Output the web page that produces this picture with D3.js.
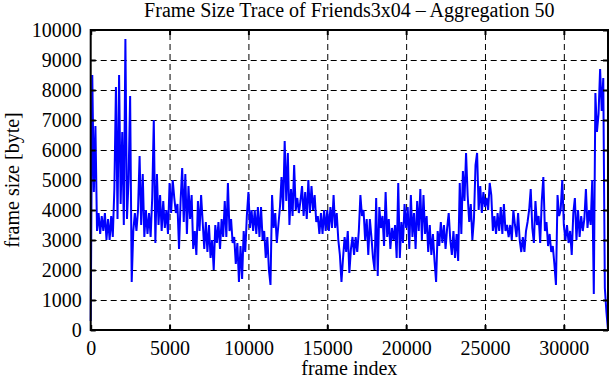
<!DOCTYPE html>
<html>
<head>
<meta charset="utf-8">
<script src="https://cdn.jsdelivr.net/npm/d3@7/dist/d3.min.js"></script>
<style>
  body { margin: 0; background: #fff; }
  text { font-family: "Liberation Serif", "DejaVu Serif", serif; }
</style>
</head>
<body>
<div id="plot"></div>
<script>
const margin = { top: 30, right: 3, bottom: 50, left: 90.7 };
const width = 611 - margin.left - margin.right;
const height = 380 - margin.top - margin.bottom;

// aggregated frame sizes, one value every 100 frames (row = 1000 frames)
const frameStep = 100;
const frameSizes = [
  300, 8500, 4600, 6800, 3300, 3900, 3200, 3800, 3300, 3900,
  3000, 3700, 3000, 3800, 3100, 4700, 8100, 3700, 8500, 4200,
  6600, 3500, 9700, 3700, 5000, 7800, 1600, 3300, 3900, 3300,
  4000, 5800, 3500, 5200, 3100, 4000, 3200, 3900, 3100, 4400,
  7000, 2900, 5200, 3500, 4500, 3300, 4300, 3400, 4000, 3200,
  4900, 3900, 5000, 4400, 3900, 4200, 2700, 4300, 5400, 3600,
  5200, 3200, 4800, 3700, 4500, 2700, 3300, 2500, 4300, 3300,
  4500, 3600, 2700, 3600, 2600, 3500, 2400, 3000, 2000, 3500,
  2900, 3600, 2700, 3700, 3100, 4300, 3100, 4900, 3300, 3700,
  2900, 3100, 2200, 2900, 1600, 2800, 1700, 3300, 2600, 3800,
  4600, 3400, 4000, 3300, 4000, 3200, 4100, 3100, 4100, 3000,
  3300, 2400, 3100, 2000, 1500, 4500, 3400, 3900, 2900, 3500,
  4100, 5100, 4000, 6300, 4300, 5900, 3500, 4700, 3800, 5500,
  4000, 4400, 3900, 4300, 4800, 3800, 4600, 3700, 5000, 3900,
  4800, 4000, 4500, 3600, 3800, 3200, 3900, 3200, 4000, 3300,
  4000, 3300, 4100, 3400, 4500, 3400, 3900, 3000, 2500, 1600,
  2400, 3100, 2600, 3300, 1900, 2700, 3100, 2500, 3100, 2600,
  3300, 4500, 3800, 4000, 3000, 3700, 2500, 3700, 3100, 2400,
  2000, 4400, 1800, 4100, 3400, 3800, 2800, 4600, 3100, 3700,
  2700, 3400, 3000, 3500, 2400, 4900, 2400, 3600, 2900, 4200,
  3400, 4100, 2700, 4500, 3100, 3900, 2700, 4300, 3300, 4700,
  3000, 4500, 3200, 3800, 2600, 3500, 2500, 3200, 2300, 1600,
  3300, 2800, 3600, 2900, 3500, 2700, 3400, 3900, 3000, 2500,
  3300, 2400, 3200, 2300, 4900, 3200, 5300, 4300, 5900, 4500,
  3600, 4200, 3000, 3700, 5500, 5900, 4000, 4800, 3900, 4600,
  4100, 4400, 4000, 4900, 4500, 3300, 3800, 3200, 3900, 3300,
  4100, 3200, 4200, 3300, 3500, 3100, 3500, 3000, 4000, 3500,
  3100, 3900, 3000, 2600, 3100, 2600, 3300, 3600, 4000, 4700,
  3400, 2900, 4300, 3500, 3800, 2900, 4300, 5100, 3300, 3600,
  2800, 3200, 2600, 2800, 2200, 1500, 4500, 3800, 4000, 5000,
  3500, 3000, 3500, 2900, 3300, 2500, 3900, 4400, 3000, 4000,
  3100, 3800, 3300, 3700, 4700, 3400, 4000, 3500, 5000, 1200,
  7900, 6600, 7200, 8700, 7300, 8400, 1400, 600, 0
];

const xTicks = [0, 5000, 10000, 15000, 20000, 25000, 30000];
const yTicks = [0, 1000, 2000, 3000, 4000, 5000, 6000, 7000, 8000, 9000, 10000];
const xMax = 32800;

const title = "Frame Size Trace of Friends3x04 \u2013 Aggregation 50";
const xLabel = "frame index";
const yLabel = "frame size [byte]";

const x = d3.scaleLinear().domain([0, xMax]).range([0, width]);
const y = d3.scaleLinear().domain([0, 10000]).range([height, 0]);
const fmt = d3.format("d");

const root = d3.select("#plot")
  .append("svg")
  .attr("width", 611)
  .attr("height", 380);

const svg = root.append("g")
  .attr("transform", `translate(${margin.left},${margin.top})`);

// dashed grid
svg.append("g")
  .attr("class", "grid")
  .call(d3.axisLeft(y).tickValues(yTicks.slice(1, -1)).tickSize(-width).tickFormat(""))
  .call(g => g.select(".domain").remove());

svg.append("g")
  .attr("class", "grid")
  .attr("transform", `translate(0,${height})`)
  .call(d3.axisBottom(x).tickValues(xTicks.slice(1)).tickSize(-height).tickFormat(""))
  .call(g => g.select(".domain").remove());

svg.selectAll(".grid line")
  .attr("stroke", "#000")
  .attr("stroke-width", 1)
  .attr("stroke-dasharray", "6,4");

const line = d3.line()
  .x((d, i) => x(i * frameStep))
  .y(d => y(d));

svg.append("path")
  .datum(frameSizes)
  .attr("fill", "none")
  .attr("stroke", "#0000ff")
  .attr("stroke-width", 2)
  .attr("d", line);

// axes with inward ticks on all four sides
svg.append("g")
  .attr("class", "axis")
  .call(d3.axisLeft(y).tickValues(yTicks).tickFormat(fmt).tickSizeInner(-5).tickSizeOuter(0).tickPadding(9));

svg.append("g")
  .attr("class", "axis")
  .attr("transform", `translate(0,${height})`)
  .call(d3.axisBottom(x).tickValues(xTicks).tickFormat(fmt).tickSizeInner(-5).tickSizeOuter(0).tickPadding(11));

svg.append("g")
  .attr("class", "axis")
  .call(d3.axisTop(x).tickValues(xTicks).tickSizeInner(-5).tickSizeOuter(0).tickFormat(""));

svg.append("g")
  .attr("class", "axis")
  .attr("transform", `translate(${width},0)`)
  .call(d3.axisRight(y).tickValues(yTicks).tickSizeInner(-5).tickSizeOuter(0).tickFormat(""));

svg.selectAll(".axis .domain").remove();
svg.selectAll(".axis .tick line").attr("stroke-width", 2);

svg.selectAll(".axis .tick text")
  .attr("font-family", "'Liberation Serif', serif")
  .attr("font-size", 20)
  .attr("fill", "#000");

// border
svg.append("rect")
  .attr("width", width)
  .attr("height", height)
  .attr("fill", "none")
  .attr("stroke", "#000")
  .attr("stroke-width", 2);

root.append("text")
  .attr("x", margin.left + width / 2)
  .attr("y", 17)
  .attr("text-anchor", "middle")
  .attr("font-size", 20)
  .text(title);

root.append("text")
  .attr("x", margin.left + width / 2)
  .attr("y", 375)
  .attr("text-anchor", "middle")
  .attr("font-size", 20)
  .text(xLabel);

root.append("text")
  .attr("transform", `translate(19,${margin.top + height / 2}) rotate(-90)`)
  .attr("text-anchor", "middle")
  .attr("font-size", 20)
  .text(yLabel);
</script>
</body>
</html>
